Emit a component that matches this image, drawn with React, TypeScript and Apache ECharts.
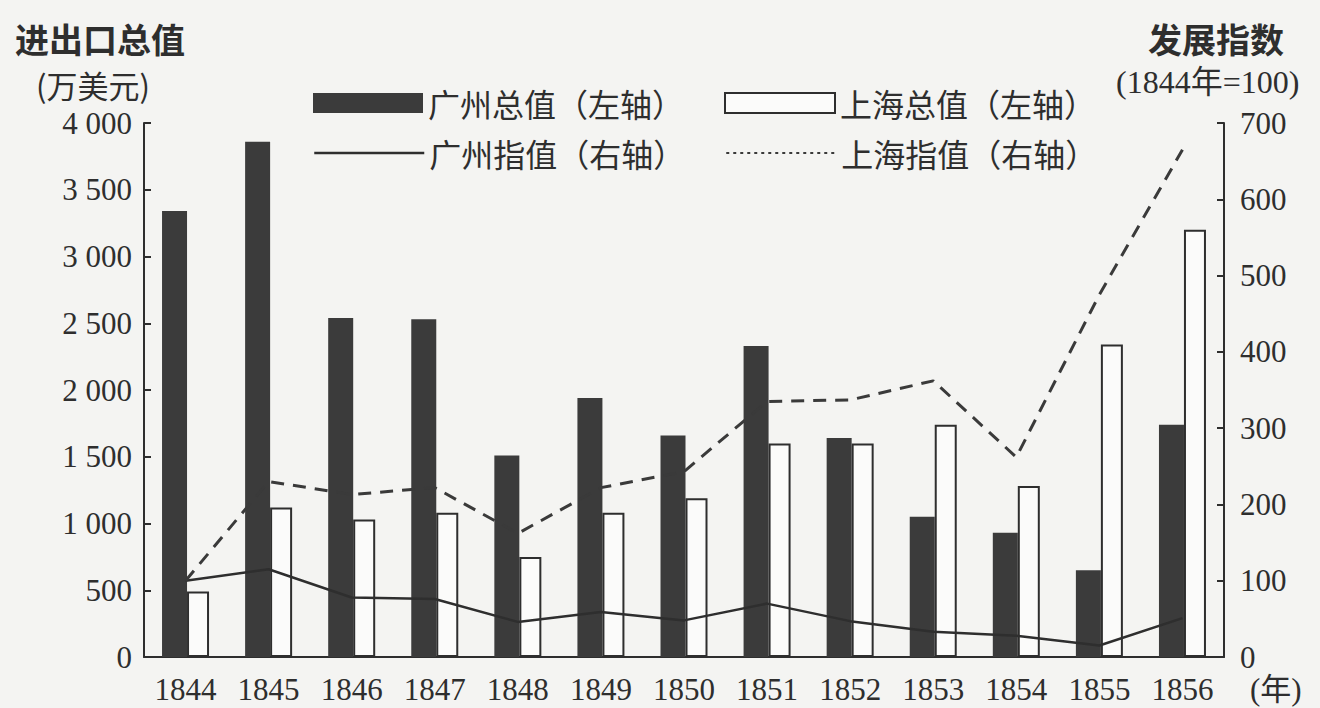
import React, { useEffect, useRef } from "react";
import * as echarts from "echarts";

const years = ["1844", "1845", "1846", "1847", "1848", "1849", "1850", "1851", "1852", "1853", "1854", "1855", "1856"];
const gzTotal = [3340, 3860, 2540, 2530, 1510, 1940, 1660, 2330, 1640, 1050, 930, 650, 1740];
const shTotal = [490, 1120, 1030, 1080, 750, 1080, 1190, 1600, 1600, 1740, 1280, 2340, 3200];
const gzIndex = [100, 115, 78, 76, 46, 59, 48, 70, 47, 33, 28, 15, 51];
const shIndex = [100, 230, 213, 222, 162, 222, 243, 335, 337, 362, 262, 475, 665];

const names = {
  gzTotal: "广州总值（左轴）",
  shTotal: "上海总值（左轴）",
  gzIndex: "广州指值（右轴）",
  shIndex: "上海指值（右轴）",
};

const INK = "#2e2e2e";
const BG = "#f4f4f2";
const SERIF = "'Liberation Serif', 'Times New Roman', 'Noto Sans CJK SC', serif";
const CJK = "'Noto Sans CJK SC', sans-serif";

function fmtThousands(v: number): string {
  if (v >= 1000) {
    const k = Math.floor(v / 1000);
    const r = String(v % 1000).padStart(3, "0");
    return `${k} ${r}`;
  }
  return String(v);
}

export default function App() {
  const ref = useRef<HTMLDivElement>(null);
  useEffect(() => {
    if (!ref.current) return;
    const chart = echarts.init(ref.current, undefined, { renderer: "svg", width: 1320, height: 708 });
    const option: any = {
      animation: false,
      backgroundColor: BG,
      textStyle: { fontFamily: SERIF, color: INK },
      grid: { left: 144, right: 96, top: 123, bottom: 51, containLabel: false, outerBoundsMode: "none" },
      legend: [
        {
          left: 308,
          top: 82,
          itemWidth: 110,
          itemHeight: 20,
          itemGap: 40,
          icon: "rect",
          textStyle: { fontFamily: CJK, fontSize: 32, color: INK },
          data: [names.gzTotal, names.shTotal],
        },
        {
          left: 308,
          top: 132,
          itemWidth: 110,
          itemHeight: 20,
          itemGap: 40,
          itemStyle: { opacity: 0 },
          textStyle: { fontFamily: CJK, fontSize: 32, color: INK },
          data: [
            { name: names.gzIndex, itemStyle: { opacity: 0 }, lineStyle: { width: 2.5, type: "solid" } },
            { name: names.shIndex, itemStyle: { opacity: 0 }, lineStyle: { width: 2, type: [3, 4] } },
          ],
        },
      ],
      xAxis: {
        type: "category",
        data: years,
        axisLine: { lineStyle: { color: INK, width: 2 } },
        axisTick: { inside: true, length: 7, lineStyle: { color: INK, width: 2 } },
        axisLabel: { fontFamily: SERIF, fontSize: 31, color: INK, margin: 17, interval: 0 },
      },
      yAxis: [
        {
          type: "value",
          min: 0,
          max: 4000,
          interval: 500,
          splitLine: { show: false },
          axisLine: { show: true, lineStyle: { color: INK, width: 2 } },
          axisTick: { show: true, inside: true, length: 7, lineStyle: { color: INK, width: 2 } },
          axisLabel: {
            fontFamily: SERIF,
            fontSize: 31,
            color: INK,
            margin: 12,
            formatter: (v: number) => fmtThousands(v),
          },
        },
        {
          type: "value",
          min: 0,
          max: 700,
          interval: 100,
          position: "right",
          splitLine: { show: false },
          axisLine: { show: true, lineStyle: { color: INK, width: 2 } },
          axisTick: { show: true, inside: true, length: 7, lineStyle: { color: INK, width: 2 } },
          axisLabel: { fontFamily: SERIF, fontSize: 31, color: INK, margin: 16 },
        },
      ],
      series: [
        {
          name: names.gzTotal,
          type: "bar",
          yAxisIndex: 0,
          data: gzTotal,
          barWidth: 25,
          barGap: "0%",
          itemStyle: { color: "#3b3b3b" },
        },
        {
          name: names.shTotal,
          type: "bar",
          yAxisIndex: 0,
          data: shTotal,
          barWidth: 22,
          barGap: "0%",
          itemStyle: { color: "#fbfbfa", borderColor: INK, borderWidth: 2 },
        },
        {
          name: names.gzIndex,
          type: "line",
          yAxisIndex: 1,
          data: gzIndex,
          symbol: "none",
          showSymbol: false,
          z: 5,
          lineStyle: { color: INK, width: 2.5, type: "solid" },
          itemStyle: { color: INK },
        },
        {
          name: names.shIndex,
          type: "line",
          yAxisIndex: 1,
          data: shIndex,
          symbol: "none",
          showSymbol: false,
          z: 5,
          lineStyle: { color: "#3a3a3a", width: 3, type: [13, 9] },
          itemStyle: { color: "#3a3a3a" },
        },
      ],
      graphic: [
        {
          type: "text",
          x: 15,
          y: 38,
          style: { text: "进出口总值", fontFamily: CJK, fontSize: 34, fontWeight: "bold", fill: INK, verticalAlign: "middle" },
        },
        {
          type: "text",
          x: 36,
          y: 84,
          style: { text: "(万美元)", fontFamily: CJK, fontSize: 31, fill: INK, verticalAlign: "middle" },
        },
        {
          type: "text",
          x: 1148,
          y: 38,
          style: { text: "发展指数", fontFamily: CJK, fontSize: 34, fontWeight: "bold", fill: INK, verticalAlign: "middle" },
        },
        {
          type: "text",
          x: 1116,
          y: 82,
          style: { text: "(1844年=100)", fontFamily: SERIF, fontSize: 32, fill: INK, verticalAlign: "middle" },
        },
        {
          type: "text",
          x: 1250,
          y: 689,
          style: { text: "(年)", fontFamily: SERIF, fontSize: 31, fill: INK, verticalAlign: "middle" },
        },
      ],
    };
    chart.setOption(option);
    return () => chart.dispose();
  }, []);
  return (
    <div
      ref={ref}
      style={{ position: "absolute", left: 0, top: 0, width: 1320, height: 708, background: BG }}
    />
  );
}
